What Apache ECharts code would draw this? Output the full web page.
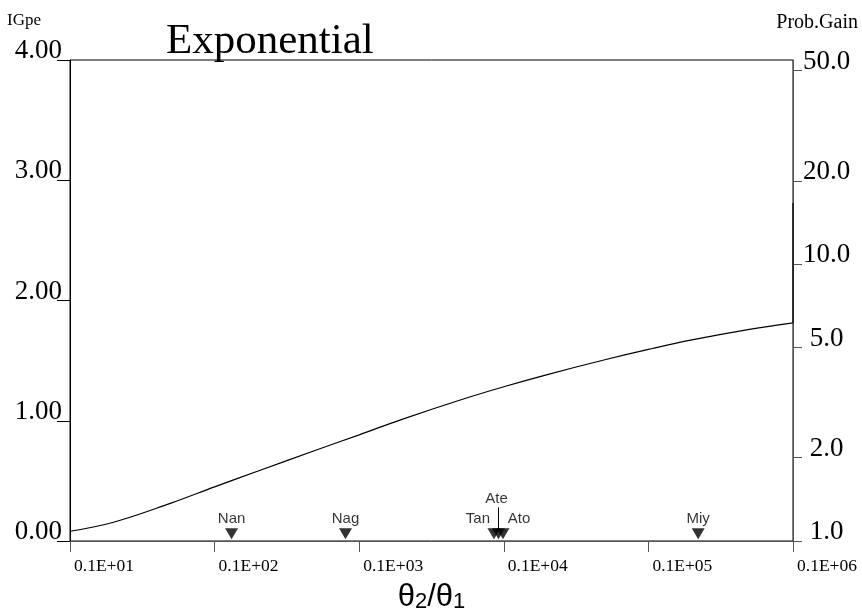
<!DOCTYPE html>
<html><head><meta charset="utf-8">
<script src="https://cdn.jsdelivr.net/npm/echarts@6/dist/echarts.min.js"></script>
<style>html,body{margin:0;padding:0;background:#fff}#c{width:862px;height:612px}</style>
</head><body><div id="c"></div>
<script>
// Curve: IGpe vs theta2/theta1 (log x)
const ratioValues = [1, 2, 5, 10, 20, 50, 100, 200, 500, 1000, 2000, 5000, 10000, 20000, 50000, 100000];
const igpeValues  = [0.081, 0.156, 0.315, 0.450, 0.582, 0.755, 0.883, 1.014, 1.173, 1.283, 1.384, 1.507, 1.593, 1.672, 1.760, 1.814];
// upper bound segment on the right edge
const boundX = 100000;
const boundLow = 1.814;
const boundHigh = 2.81;
// Markers (regions)
const markerNames = ['Nan', 'Nag', 'Tan', 'Ate', 'Ato', 'Miy'];
const markerRatios = [13.1, 80.4, 855, 919, 987, 22100];
const markerLevel = 0.06;
// Right axis probability gain tick values
const gainTicks = [1, 2, 5, 10, 20, 50];
const igpeTicks = [0, 1, 2, 3, 4];

const SERIF = '"Liberation Serif","Times New Roman",serif';
const SANS = '"Liberation Sans",Arial,sans-serif';

const chart = echarts.init(document.getElementById('c'), null, {renderer: 'canvas'});

const markerOffsets = {Tan: [-16, 0], Ate: [-2, -20], Ato: [16, 0]};

const option = {
  animation: false,
  backgroundColor: '#fff',
  title: {
    text: 'Exponential', left: 166, top: 20, padding: 0,
    textStyle: {fontFamily: SERIF, fontSize: 43, fontWeight: 'normal', color: '#000'}
  },
  grid: {left: 70, right: 69, top: 60, bottom: 71, containLabel: false, outerBoundsMode: 'none',
         show: true, borderColor: '#000', borderWidth: 1, backgroundColor: 'transparent'},
  graphic: [
    {type: 'text', left: 7, top: 12, style: {text: 'IGpe', font: '17px ' + SERIF, fill: '#000'}},
    {type: 'text', right: 4, top: 13, style: {text: 'Prob.Gain', font: '20px ' + SERIF, fill: '#000'}}
  ],
  xAxis: {
    type: 'log', logBase: 10, min: 1, max: 100000,
    name: '{t|θ}{s|2}{t|/θ}{s|1}', nameLocation: 'middle', nameGap: 40,
    nameTextStyle: {
      rich: {
        t: {fontFamily: SANS, fontSize: 31, color: '#000', verticalAlign: 'bottom', lineHeight: 32},
        s: {fontFamily: SANS, fontSize: 22, color: '#000', verticalAlign: 'bottom', lineHeight: 24}
      }
    },
    axisLine: {show: true, lineStyle: {color: '#555', width: 1}},
    axisTick: {show: true, length: 11, lineStyle: {color: '#555'}},
    axisLabel: {
      show: true, margin: 16, align: 'left', padding: [0, 0, 0, 4],
      fontFamily: SERIF, fontSize: 17.5, color: '#000',
      showMinLabel: true, showMaxLabel: true, hideOverlap: false,
      formatter: v => { const e = Math.round(Math.log10(v)) + 1; return '0.1E+' + String(e).padStart(2, '0'); }
    },
    splitLine: {show: false}, minorTick: {show: false}
  },
  yAxis: [
    {
      type: 'value', min: 0, max: 4, interval: 1, position: 'left',
      axisLine: {show: true, lineStyle: {color: '#000', width: 1}},
      axisTick: {show: true, length: 13, lineStyle: {color: '#000'}},
      axisLabel: {
        margin: 8, fontFamily: SERIF, fontSize: 27, color: '#000',
        verticalAlign: 'bottom', lineHeight: 18,
        formatter: v => v.toFixed(2)
      },
      splitLine: {show: false}
    },
    {
      type: 'value', min: 0, max: 4, position: 'right',
      axisLine: {show: true, lineStyle: {color: '#555', width: 1}},
      axisTick: {show: true, length: 9, lineStyle: {color: '#555'}, customValues: gainTicks.map(g => Math.log(g))},
      axisLabel: {
        margin: 10, align: 'left', fontFamily: SERIF, fontSize: 27, color: '#000',
        verticalAlign: 'bottom', lineHeight: 18,
        customValues: gainTicks.map(g => Math.log(g)),
        formatter: v => { const s = Math.exp(v).toFixed(1); return s.length < 4 ? ' ' + s : s; }
      },
      splitLine: {show: false}
    }
  ],
  series: [
    {
      type: 'line', name: 'IGpe', smooth: 0.4, symbol: 'none', yAxisIndex: 0,
      lineStyle: {color: '#000', width: 1.2},
      data: ratioValues.map((x, i) => [x, igpeValues[i]])
    },
    {
      type: 'line', name: 'bound', symbol: 'none', yAxisIndex: 0,
      lineStyle: {color: '#000', width: 1.2},
      data: [[boundX, boundLow], [boundX, boundHigh]]
    },
    {
      type: 'line', name: 'AteLink', symbol: 'none', yAxisIndex: 0,
      lineStyle: {color: '#000', width: 1},
      data: [[markerRatios[3], 0.1], [markerRatios[3], 0.28]]
    },
    {
      type: 'scatter', name: 'regions', yAxisIndex: 0,
      symbol: 'triangle', symbolRotate: 180, symbolSize: [13, 11],
      itemStyle: {color: '#000'},
      label: {
        show: true, position: 'top', distance: 2,
        fontFamily: SANS, fontSize: 15, color: '#000',
        formatter: p => p.name
      },
      data: markerNames.map((n, i) => ({
        name: n, value: [markerRatios[i], markerLevel],
        label: markerOffsets[n] ? {offset: markerOffsets[n]} : {}
      }))
    }
  ]
};
chart.setOption(option);
</script>
</body></html>
